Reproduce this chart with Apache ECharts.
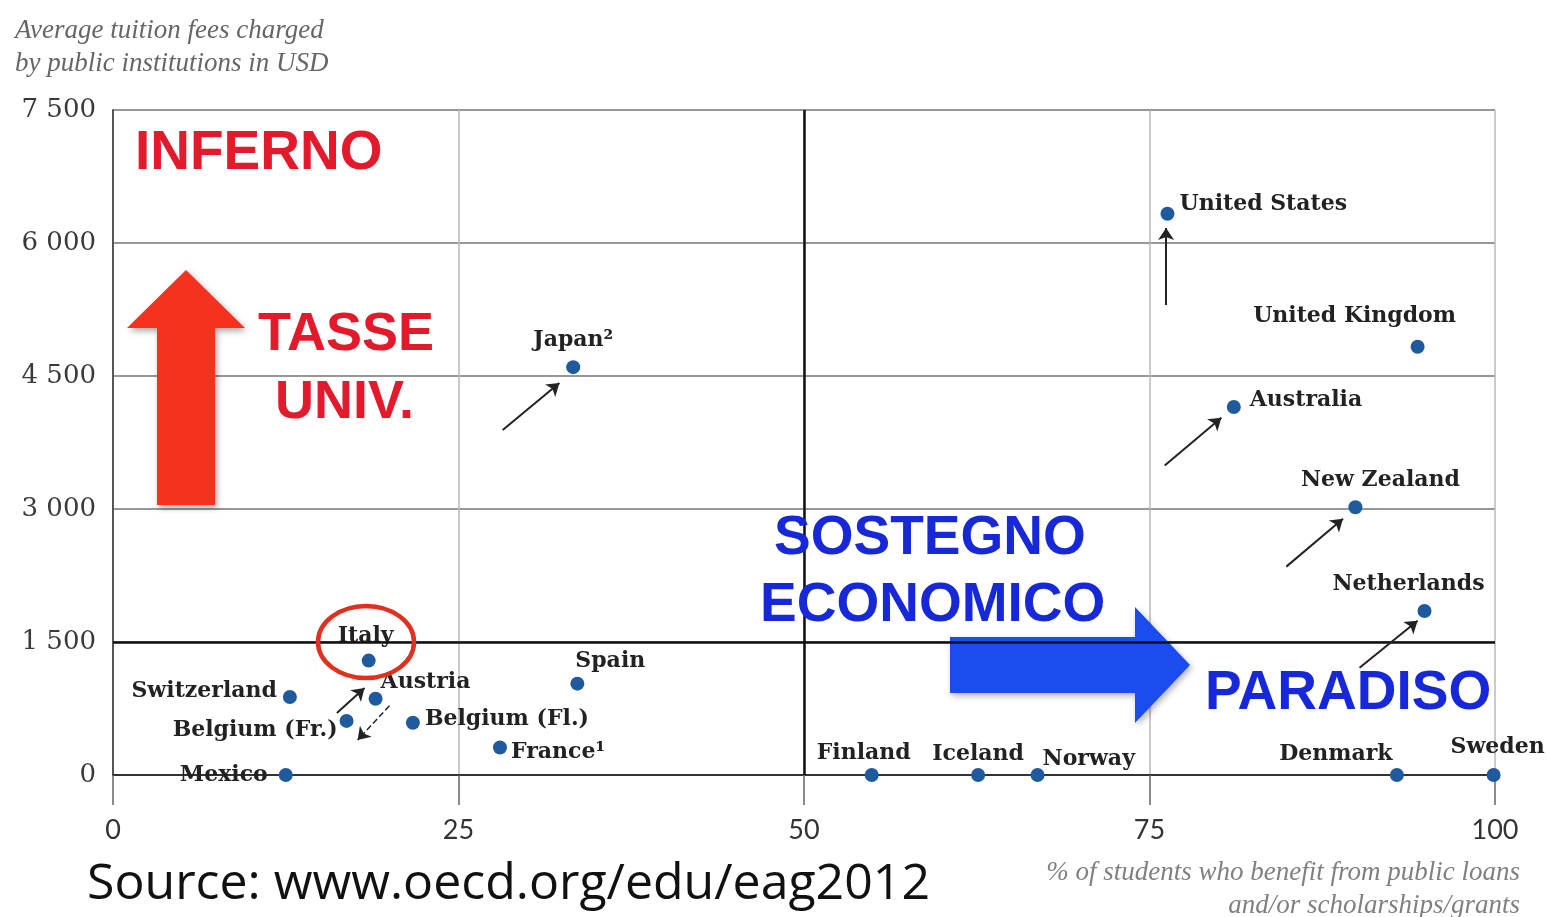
<!DOCTYPE html>
<html>
<head>
<meta charset="utf-8">
<title>Tuition fees vs public support</title>
<script src="https://cdn.jsdelivr.net/npm/echarts@6/dist/echarts.min.js"></script>
<style>
  html, body { margin: 0; padding: 0; background: #fff; }
  #chart { width: 1547px; height: 917px; }
</style>
</head>
<body>
<div id="chart"></div>
<script>
// data
const countries = ['United States', 'United Kingdom', 'Australia', 'New Zealand', 'Netherlands',
  'Japan²', 'Italy', 'Switzerland', 'Austria', 'Belgium (Fr.)', 'Belgium (Fl.)', 'France¹',
  'Spain', 'Mexico', 'Finland', 'Iceland', 'Norway', 'Denmark', 'Sweden']
const pctStudents = [76.3, 94.4, 81.1, 89.9, 94.9, 33.3, 18.5, 12.8, 19.0, 16.9, 21.7, 28.0,
  33.6, 12.5, 54.9, 62.6, 66.9, 92.9, 99.9]
const tuitionFees = [6330, 4830, 4150, 3020, 1850, 4600, 1290, 880, 860, 610, 590, 310,
  1030, 0, 0, 0, 0, 0, 0]

const xTicks = [0, 25, 50, 75, 100]
const yTicks = [0, 1500, 3000, 4500, 6000, 7500]

// change arrows (from, to) in data units
const arrows = [
  [[76.2, 5300], [76.2, 6170]],
  [[28.2, 3890], [32.3, 4420]],
  [[76.1, 3490], [80.2, 4030]],
  [[84.9, 2350], [89.0, 2890]],
  [[90.2, 1210], [94.4, 1740]],
  [[16.2, 700], [18.2, 980]]
]
const dashedArrows = [
  [[20.0, 780], [17.7, 395]]
]

// label anchor per country: [align, dx, dy]
const labelLayout = {
  'United States': ['left', 12, -9],
  'United Kingdom': ['center', -63, -30],
  'Australia': ['left', 16, -7],
  'New Zealand': ['center', 25, -27],
  'Netherlands': ['center', -16, -27],
  'Japan²': ['center', 0, -27],
  'Italy': ['center', -3, -24],
  'Switzerland': ['right', -13, -6],
  'Austria': ['left', 5, -16],
  'Belgium (Fr.)': ['right', -9, 9],
  'Belgium (Fl.)': ['left', 12, -3],
  'France¹': ['left', 11, 5],
  'Spain': ['left', -2, -22],
  'Mexico': ['right', -18, 0],
  'Finland': ['center', -8, -22],
  'Iceland': ['center', 0, -21],
  'Norway': ['left', 5, -16],
  'Denmark': ['center', -61, -21],
  'Sweden': ['center', 4, -28]
}

const chart = echarts.init(document.getElementById('chart'))

const points = countries.map((name, i) => {
  const [align, dx, dy] = labelLayout[name]
  return {
    name: name,
    value: [pctStudents[i], tuitionFees[i]],
    label: { align: align, offset: [dx, dy] }
  }
})

const labelFont = {
  fontFamily: 'DejaVu Serif',
  fontWeight: 'bold',
  fontSize: 22,
  color: '#222'
}

const option = {
  backgroundColor: '#fff',
  animation: false,
  grid: { left: 113, right: 52, top: 110, bottom: 142 },
  xAxis: {
    type: 'value',
    min: xTicks[0],
    max: xTicks[xTicks.length - 1],
    interval: 25,
    axisLine: { show: true, onZero: false, lineStyle: { color: '#333', width: 2 } },
    axisTick: { show: true, length: 30, lineStyle: { color: '#666', width: 1.5 } },
    axisLabel: { margin: 42, fontFamily: 'Lato', fontSize: 27, color: '#333' },
    splitLine: { show: true, lineStyle: { color: '#b8b8b8', width: 1.5 } }
  },
  yAxis: {
    type: 'value',
    min: yTicks[0],
    max: yTicks[yTicks.length - 1],
    interval: 1500,
    axisLine: { show: true, onZero: false, lineStyle: { color: '#555', width: 2 } },
    axisTick: { show: false },
    axisLabel: {
      margin: 17,
      fontFamily: 'DejaVu Serif',
      fontSize: 26,
      color: '#3a3a3a',
      formatter: v => String(v).replace(/\B(?=(\d{3})+(?!\d))/g, ' ')
    },
    splitLine: { show: true, lineStyle: { color: '#747474', width: 1.5 } }
  },
  graphic: [
    {
      type: 'text', x: 15, y: 14, z: 10,
      style: {
        text: 'Average tuition fees charged\nby public institutions in USD',
        font: 'italic 27px "Liberation Serif"', fill: '#666', lineHeight: 33
      }
    },
    {
      type: 'text', x: 1520, y: 856, z: 10,
      style: {
        text: '% of students who benefit from public loans\nand/or scholarships/grants',
        font: 'italic 27px "Liberation Serif"', fill: '#808080', lineHeight: 33, align: 'right'
      }
    },
    {
      type: 'text', x: 87, y: 860, z: 10,
      style: { text: 'Source: www.oecd.org/edu/eag2012', font: '50px "Open Sans"', fill: '#111' }
    },
    // red up arrow
    {
      type: 'polygon', z: 5,
      shape: { points: [[157, 505], [215, 505], [215, 328], [245, 328], [186, 270], [127, 328], [157, 328]] },
      style: { fill: '#f5311f', shadowBlur: 6, shadowOffsetX: 2, shadowOffsetY: 3, shadowColor: 'rgba(0,0,0,0.35)' }
    },
    // blue right arrow
    {
      type: 'polygon', z: 5,
      shape: { points: [[950, 637], [1135, 637], [1135, 607], [1190, 665], [1135, 723], [1135, 693], [950, 693]] },
      style: { fill: '#1a4cf0', shadowBlur: 6, shadowOffsetX: 2, shadowOffsetY: 3, shadowColor: 'rgba(0,0,0,0.3)' }
    },
    {
      type: 'text', x: 135, y: 126, z: 10,
      style: { text: 'INFERNO', font: 'bold 55px "Liberation Sans"', fill: '#e3192c' }
    },
    {
      type: 'text', x: 258, y: 308, z: 10,
      style: { text: 'TASSE', font: 'bold 54px "Liberation Sans"', fill: '#e3192c' }
    },
    {
      type: 'text', x: 275, y: 376, z: 10,
      style: { text: 'UNIV.', font: 'bold 54px "Liberation Sans"', fill: '#e3192c' }
    },
    {
      type: 'text', x: 774, y: 511, z: 10,
      style: { text: 'SOSTEGNO', font: 'bold 55px "Liberation Sans"', fill: '#1628d8' }
    },
    {
      type: 'text', x: 760, y: 578, z: 10,
      style: { text: 'ECONOMICO', font: 'bold 55px "Liberation Sans"', fill: '#1628d8' }
    },
    {
      type: 'text', x: 1205, y: 666, z: 10,
      style: { text: 'PARADISO', font: 'bold 55px "Liberation Sans"', fill: '#1628d8' }
    },
    // circle round Italy
    {
      type: 'ellipse', z: 6,
      shape: { cx: 366, cy: 642, rx: 48, ry: 36 },
      style: { fill: 'none', stroke: '#e0301e', lineWidth: 4.5 }
    }
  ],
  series: [
    {
      name: 'quadrants',
      type: 'scatter',
      data: [],
      silent: true,
      markLine: {
        silent: true,
        symbol: 'none',
        label: { show: false },
        lineStyle: { color: '#111', width: 2.5, type: 'solid' },
        data: [{ xAxis: 50 }, { yAxis: 1500 }]
      }
    },
    {
      name: 'changes',
      type: 'scatter',
      data: [],
      silent: true,
      markLine: {
        silent: true,
        symbol: ['none', 'arrow'],
        symbolSize: 12,
        label: { show: false },
        lineStyle: { color: '#222', width: 2, type: 'solid' },
        data: arrows.map(a => [{ coord: a[0] }, { coord: a[1] }])
          .concat(dashedArrows.map(a => [
            { coord: a[0], lineStyle: { type: 'dashed', width: 1.5 } },
            { coord: a[1] }
          ]))
      }
    },
    {
      name: 'countries',
      type: 'scatter',
      symbolSize: 14,
      z: 4,
      itemStyle: { color: '#1f5a9e', opacity: 1 },
      label: Object.assign({
        show: true,
        position: 'inside',
        verticalAlign: 'middle',
        formatter: p => p.name
      }, labelFont),
      data: points
    }
  ]
}

chart.setOption(option)
window.addEventListener('resize', () => chart.resize())
</script>
</body>
</html>
